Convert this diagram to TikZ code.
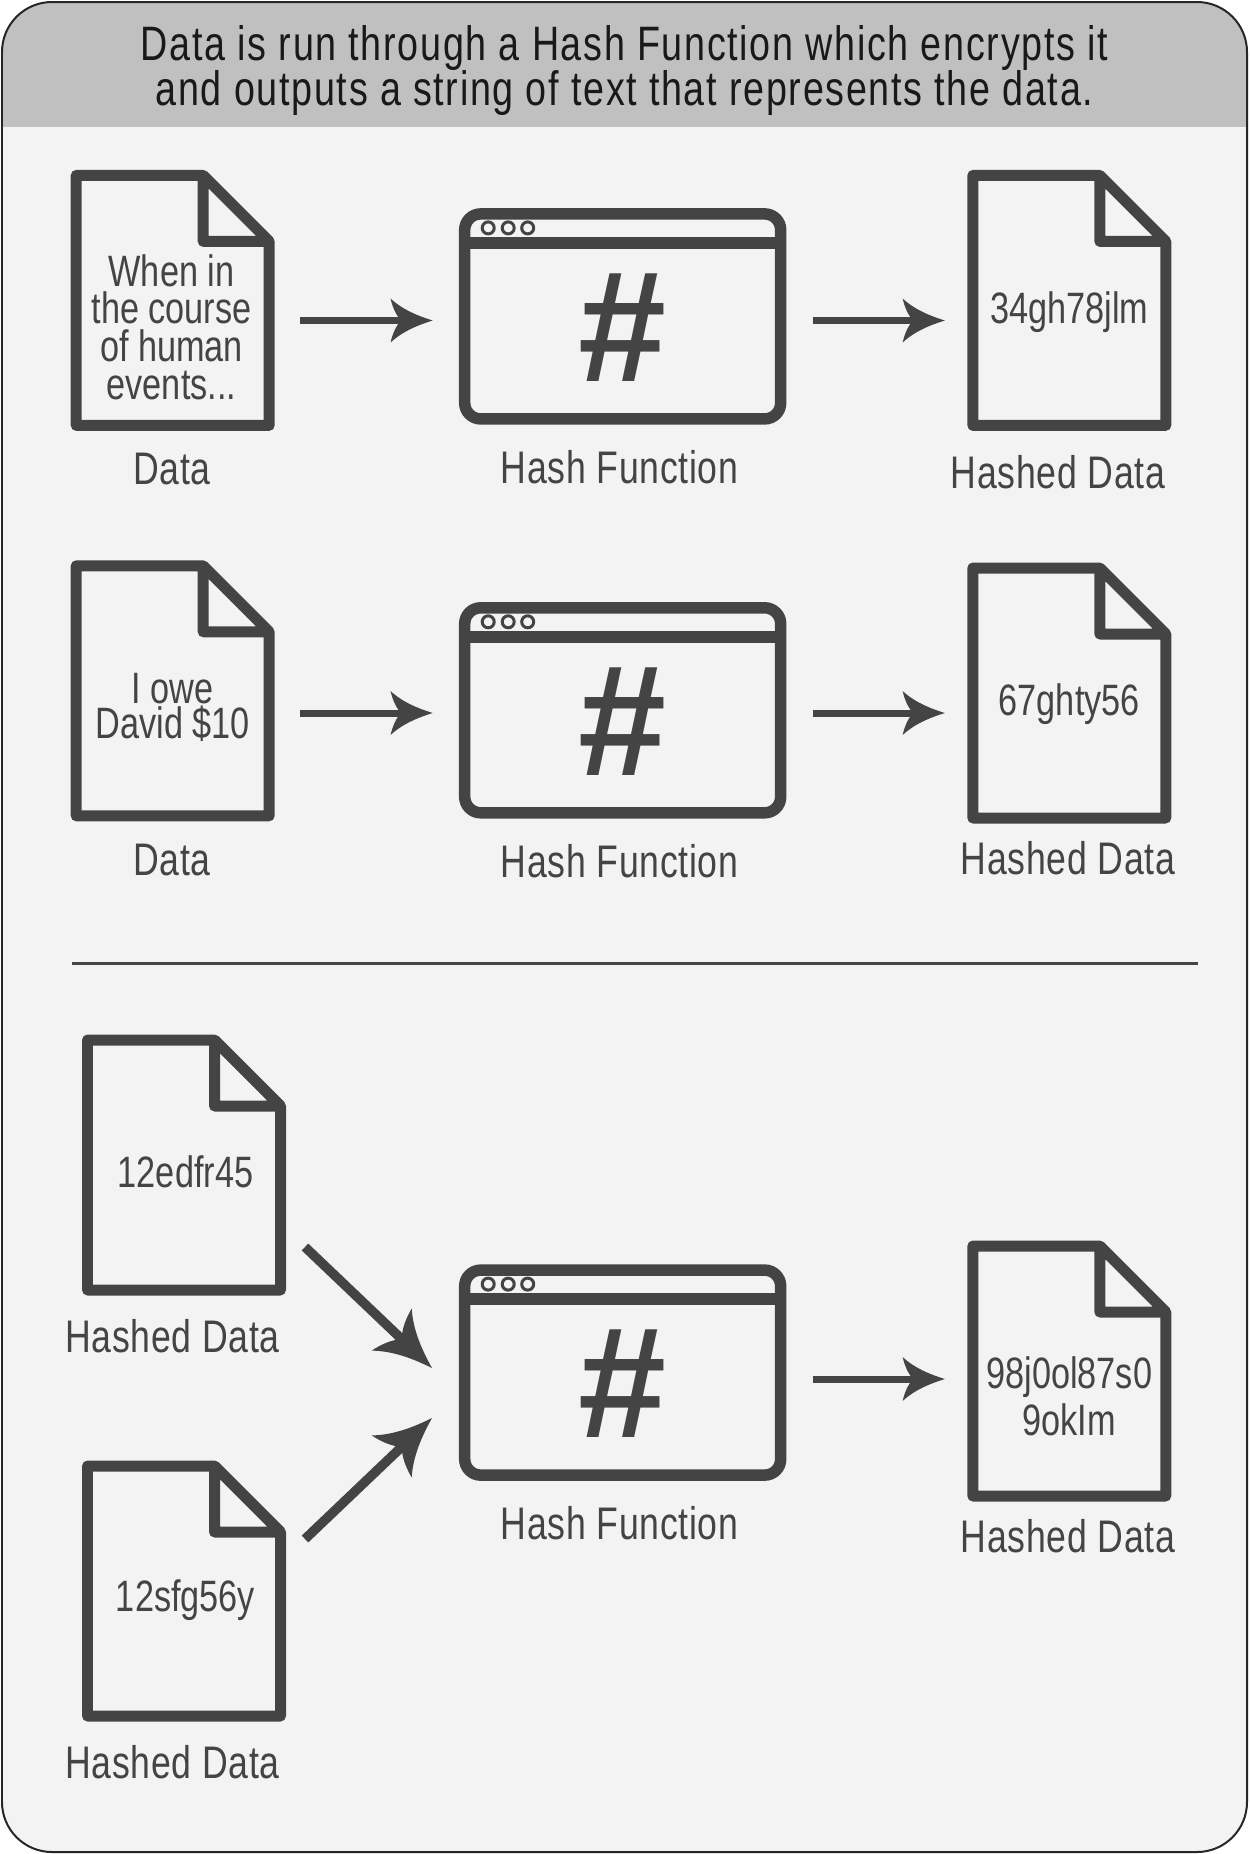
\documentclass[tikz,border=0pt]{standalone}
\usepackage{fontspec}
\usepackage{xcolor}
\setmainfont{Liberation Sans}[FakeStretch=0.78]
\newfontfamily\hashfont{Liberation Sans}
\newfontfamily\capfont{Liberation Sans}[FakeStretch=0.78,LetterSpace=1.5]
\newfontfamily\headfont{Liberation Sans}[FakeStretch=0.78,LetterSpace=3.5]
\usetikzlibrary{calc}

\definecolor{inkgray}{HTML}{444444}
\definecolor{headgray}{HTML}{C0C0C0}
\definecolor{bodygray}{HTML}{F3F3F3}

% swept arrow tip, in two sizes
\newcommand{\sweptarrow}[2]{%
  \pgfdeclarearrow{
    name=#1,
    setup code={
      \pgfarrowssettipend{0pt}
      \pgfarrowssetlineend{#2\dimexpr-12pt\relax}
      \pgfarrowssetbackend{#2\dimexpr-24pt\relax}
      \pgfarrowssetvisualbackend{#2\dimexpr-18pt\relax}
    },
    drawing code={
      \pgftransformscale{#2}
      \pgfpathmoveto{\pgfpoint{0pt}{0pt}}
      \pgfpathcurveto{\pgfpoint{-8pt}{2.5pt}}{\pgfpoint{-17pt}{6pt}}{\pgfpoint{-24pt}{12.5pt}}
      \pgfpathcurveto{\pgfpoint{-23pt}{8pt}}{\pgfpoint{-21pt}{3pt}}{\pgfpoint{-18pt}{0pt}}
      \pgfpathcurveto{\pgfpoint{-21pt}{-3pt}}{\pgfpoint{-23pt}{-8pt}}{\pgfpoint{-24pt}{-12.5pt}}
      \pgfpathcurveto{\pgfpoint{-17pt}{-6pt}}{\pgfpoint{-8pt}{-2.5pt}}{\pgfpoint{0pt}{0pt}}
      \pgfpathclose
      \pgfusepathqfill
    }
  }%
}
\sweptarrow{Swept}{1}
\sweptarrow{SweptBig}{1.32}

\tikzset{
  docbox/.style={minimum width=4.06cm, minimum height=5.2cm, outer sep=0.52cm},
  winbox/.style={minimum width=6.56cm, minimum height=4.33cm, outer sep=0.52cm},
  doctext/.style={text=inkgray, align=center, font=\fontsize{25}{21.5}\selectfont},
  caption/.style={text=inkgray, font=\capfont\fontsize{26}{30}\selectfont},
  headtext/.style={text=black!90, align=center, font=\headfont\fontsize{27.5}{26}\selectfont},
  hashmark/.style={text=inkgray, font=\hashfont\bfseries\fontsize{90}{90}\selectfont},
  flow/.style={draw=inkgray, line width=0.14cm, -Swept},
  slantflow/.style={draw=inkgray, line width=0.19cm, -SweptBig},
  docicon/.pic={
    \draw[inkgray, line width=0.22cm, line join=round]
      (-96.5,-125) -- (30.5,-125) -- (96.5,-59) -- (96.5,125) -- (-96.5,125) -- cycle
      (30.5,-125) -- (30.5,-59) -- (96.5,-59);
  },
  winicon/.pic={
    \draw[inkgray, line width=0.23cm, rounded corners=0.32cm] (-158,-102.5) rectangle (158,102.5);
    \draw[inkgray, line width=0.23cm] (-158,-73.5) -- (158,-73.5);
    \foreach \px in {-134.5,-114.5,-95}
      \draw[inkgray, line width=0.06cm] (\px,-88.5) circle (0.12cm);
  }
}

\begin{document}
\begin{tikzpicture}[x=0.02cm, y=-0.02cm]
  \useasboundingbox (0,0) rectangle (1249,1854);

  % Frame and heading
  \fill[white] (0,0) rectangle (1249,1854);
  \begin{scope}
    \clip[rounded corners=1cm] (2,2) rectangle (1247,1852);
    \fill[bodygray] (2,2) rectangle (1247,1852);
    \fill[headgray] (2,2) rectangle (1247,126.5);
  \end{scope}
  \draw[black!85, line width=0.04cm, rounded corners=1cm] (2,2) rectangle (1247,1852);
  \node[headtext] (heading) at (624.5,70.5) {Data is run through a Hash Function which encrypts it\\and outputs a string of text that represents the data.};

  % First row
  \node[docbox] (dataA) at (172.7,300.4) {};
  \pic at (dataA.center) {docicon};
  \node[doctext] (textA) at (171.5,327) {When in\\the course\\of human\\events...};
  \node[caption] (capA) at (172,469) {Data};
  \node[winbox] (winA) at (622.7,316.4) {};
  \pic at (winA.center) {winicon};
  \node[hashmark] (hashA) at (622.7,328) {\#};
  \node[caption] (capB) at (619.5,467) {Hash Function};
  \node[docbox] (hashedA) at (1069.3,300.4) {};
  \pic at (hashedA.center) {docicon};
  \node[doctext] (textB) at (1069.3,312.5) {34gh78jlm};
  \node[caption] (capC) at (1058,472) {Hashed Data};
  \coordinate (rowA) at (0,320.5);
  \draw[flow] (dataA.east |- rowA) -- (winA.west |- rowA);
  \draw[flow, shorten >=-0.06cm] (winA.east |- rowA) -- (hashedA.west |- rowA);

  % Second row
  \node[docbox] (dataB) at (172.7,690.8) {};
  \pic at (dataB.center) {docicon};
  \node[doctext, font=\fontsize{25}{20}\selectfont] (textC) at (172.7,707) {I owe\\David \$10};
  \node[caption] (capD) at (172,860) {Data};
  \node[winbox] (winB) at (622.7,710.3) {};
  \pic at (winB.center) {winicon};
  \node[hashmark] (hashB) at (622.7,722) {\#};
  \node[caption] (capE) at (619.5,861) {Hash Function};
  \node[docbox] (hashedB) at (1069.3,693) {};
  \pic at (hashedB.center) {docicon};
  \node[doctext] (textD) at (1069.3,704.5) {67ghty56};
  \node[caption] (capF) at (1068,858) {Hashed Data};
  \coordinate (rowB) at (0,713);
  \draw[flow] (dataB.east |- rowB) -- (winB.west |- rowB);
  \draw[flow, shorten >=-0.06cm] (winB.east |- rowB) -- (hashedB.west |- rowB);

  % Divider
  \coordinate (ruleL) at (72,963);
  \coordinate (ruleR) at (1198,963);
  \draw[inkgray, line width=0.06cm] (ruleL) -- (ruleR);

  % Third group
  \node[docbox] (hashedC) at (184,1165) {};
  \pic at (hashedC.center) {docicon};
  \node[doctext] (textE) at (185.5,1172) {12edfr45};
  \node[caption] (capG) at (172.5,1336) {Hashed Data};
  \node[docbox] (hashedD) at (184,1591) {};
  \pic at (hashedD.center) {docicon};
  \node[doctext] (textF) at (185.5,1600.5) {12sfg56y};
  \node[caption] (capH) at (172.5,1762) {Hashed Data};
  \node[winbox] (winC) at (622.7,1372.6) {};
  \pic at (winC.center) {winicon};
  \node[hashmark] (hashC) at (622.7,1384) {\#};
  \node[caption] (capI) at (619.5,1523) {Hash Function};
  \node[docbox] (hashedE) at (1069.3,1371) {};
  \pic at (hashedE.center) {docicon};
  \node[doctext, font=\fontsize{25}{26.7}\selectfont] (textG) at (1069.3,1396) {98j0ol87s0\\9okIm};
  \node[caption] (capJ) at (1068,1536) {Hashed Data};
  \coordinate (startC) at (305,1247);
  \coordinate (endC) at (432,1368);
  \coordinate (startD) at (305,1539);
  \coordinate (endD) at (432,1418);
  \coordinate (rowC) at (0,1379);
  \draw[slantflow] (startC) -- (endC);
  \draw[slantflow] (startD) -- (endD);
  \draw[flow, shorten >=-0.06cm] (winC.east |- rowC) -- (hashedE.west |- rowC);
\end{tikzpicture}
\end{document}
